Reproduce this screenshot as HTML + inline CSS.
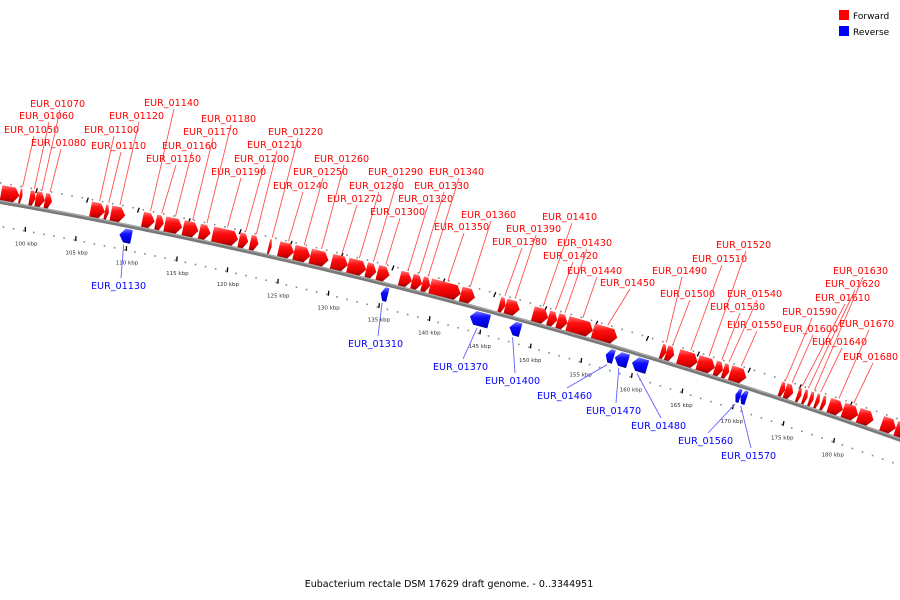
<!DOCTYPE html>
<html><head><meta charset="utf-8"><style>
html,body{margin:0;padding:0;background:#fff;}
svg{display:block;font-family:"DejaVu Sans","Liberation Sans",sans-serif;}
</style></head><body>
<svg id="map" width="900" height="600" viewBox="0 0 900 600">
<defs>
<linearGradient id="gr" x1="0" y1="0" x2="0" y2="1"><stop offset="0" stop-color="#ff7a7a"/><stop offset="0.35" stop-color="#ff1010"/><stop offset="0.7" stop-color="#e80000"/><stop offset="1" stop-color="#9a0000"/></linearGradient>
<linearGradient id="gb" x1="0" y1="0" x2="0" y2="1"><stop offset="0" stop-color="#7a7aff"/><stop offset="0.35" stop-color="#1010ff"/><stop offset="0.7" stop-color="#0000e8"/><stop offset="1" stop-color="#00009a"/></linearGradient>
</defs>
<g id="ticks"></g><g id="backbone"></g><g id="genes"></g><g id="labels"></g>
<g>
<rect x="839" y="10" width="10" height="10" fill="#ff0000"/>
<text x="853" y="19" font-size="9" fill="#000">Forward</text>
<rect x="839" y="26" width="10" height="10" fill="#0000ff"/>
<text x="853" y="35" font-size="9" fill="#000">Reverse</text>
</g>
<text x="449" y="587" font-size="9.5" text-anchor="middle" fill="#000">Eubacterium rectale DSM 17629 draft genome. - 0..3344951</text>
</svg>
<script>
const geneNames=['','EUR_01050','EUR_01060','EUR_01070','EUR_01080','EUR_01100','EUR_01110','EUR_01120','EUR_01130','EUR_01140','EUR_01150','EUR_01160','EUR_01170','EUR_01180','EUR_01190','EUR_01200','EUR_01210','EUR_01220','EUR_01240','EUR_01250','EUR_01260','EUR_01270','EUR_01280','EUR_01290','EUR_01300','EUR_01310','EUR_01320','EUR_01330','EUR_01340','EUR_01350','EUR_01360','EUR_01370','EUR_01380','EUR_01390','EUR_01400','EUR_01410','EUR_01420','EUR_01430','EUR_01440','EUR_01450','EUR_01460','EUR_01470','EUR_01480','EUR_01490','EUR_01500','EUR_01510','EUR_01520','EUR_01530','EUR_01540','EUR_01550','EUR_01560','EUR_01570','EUR_01590','EUR_01600','EUR_01610','EUR_01620','EUR_01630','EUR_01640','EUR_01650','EUR_01670','EUR_01680','','',''];
const geneStart=[96.7,98.5,99.5,100.1,101.0,105.5,106.9,107.5,108.7,110.6,111.9,112.8,114.6,116.2,117.5,120.1,121.2,123.0,124.0,125.5,127.1,129.2,130.8,132.6,133.7,134.5,135.9,137.1,138.1,138.9,141.9,143.3,145.7,146.3,147.2,149.0,150.5,151.4,152.4,154.9,156.7,157.6,159.3,161.6,162.1,163.3,165.2,166.9,167.7,168.4,169.5,170.0,173.3,173.8,175.0,175.6,176.2,176.8,177.4,178.1,179.5,181.0,183.3,184.7];
const geneEnd=[98.5,98.8,100.1,101.0,101.7,106.9,107.3,108.9,109.9,111.8,112.7,114.5,116.1,117.3,120.0,121.0,122.0,123.3,125.5,127.1,128.9,130.8,132.6,133.6,134.9,135.2,137.1,138.1,138.9,141.9,143.3,145.2,146.3,147.7,148.3,150.5,151.4,152.4,154.9,157.3,157.5,158.9,160.8,162.1,162.9,165.2,166.9,167.7,168.3,170.0,170.0,170.6,173.8,174.6,175.4,176.0,176.6,177.2,177.8,179.5,181.0,182.5,184.7,186.0];
const geneStrand=[1,1,1,1,1,1,1,1,-1,1,1,1,1,1,1,1,1,1,1,1,1,1,1,1,1,-1,1,1,1,1,1,-1,1,1,-1,1,1,1,1,1,-1,-1,-1,1,1,1,1,1,1,1,-1,-1,1,1,1,1,1,1,1,1,1,1,1,1];
const labelX=[null,4,19,30,31,84,91,109,91,144,146,162,183,201,211,234,247,268,273,293,314,327,349,368,370,348,398,414,429,434,461,433,492,506,485,542,543,557,567,600,537,586,631,652,660,692,716,710,727,727,678,721,782,783,815,825,833,812,null,839,843,null,null,null];
const labelY=[null,133,119,107,146,133,149,119,289,106,162,149,135,122,175,162,148,135,189,175,162,202,189,175,215,347,202,189,175,230,218,370,245,232,384,220,259,246,274,286,399,414,429,274,297,262,248,310,297,328,444,459,315,332,301,287,274,345,null,327,360,null,null,null];
const tickKbp=[100,105,110,115,120,125,130,135,140,145,150,155,160,165,170,175,180];
const NS='http://www.w3.org/2000/svg';
function X(k){return 33+(k-100)*10.15;}
function Yc(x){return 202+0.175*x+9.9e-5*x*x;}
function slope(x){return 0.175+2*9.9e-5*x;}
function P(k,d){const x=X(k),s=slope(x),l=Math.hypot(1,s);return [x+s/l*d,Yc(x)-1/l*d];}
function mk(tag,attrs,parent){const e=document.createElementNS(NS,tag);for(const a in attrs)e.setAttribute(a,attrs[a]);parent.appendChild(e);return e;}
const tg=document.getElementById('ticks'),bg=document.getElementById('backbone'),gg=document.getElementById('genes'),lg=document.getElementById('labels');
let pts=[];for(let x=-20;x<=920;x+=10)pts.push(x+','+Yc(x).toFixed(1));
const bb=mk('polyline',{points:pts.join(' '),fill:'none',stroke:'#7a7a7a','stroke-width':4},bg);


const bb2=mk('polyline',{points:pts.map(p=>{const [a,b]=p.split(',');return a+','+(b-1.2)}).join(' '),fill:'none',stroke:'#b0b0b0','stroke-width':1},bg);


for(let k=96;k<=188;k++){
 const a=P(k+0.5,19);const d1=mk('rect',{x:a[0]-0.8,y:a[1]-0.8,width:1.6,height:1.6,fill:'#888'},tg);
 
 
 const b=P(k+0.5,-24);const d2=mk('rect',{x:b[0]-0.8,y:b[1]-0.8,width:1.6,height:1.6,fill:'#888'},tg);
 
 
}
tickKbp.forEach(k=>{
 const a1=P(k,15),a2=P(k,20);
 const t1=mk('line',{x1:a1[0],y1:a1[1],x2:a2[0]+0.8,y2:a2[1],stroke:'#000','stroke-width':1.3},tg);
 
 
 const b1=P(k-0.4,-20),b2=P(k-0.4,-25);
 const t2=mk('line',{x1:b1[0],y1:b1[1],x2:b2[0]+0.8,y2:b2[1],stroke:'#000','stroke-width':1.3},tg);
 
 
 const c=P(k,-38);
 const t=mk('text',{x:c[0],y:c[1],'font-size':5.5,'text-anchor':'middle',fill:'#333'},tg);
 t.textContent=k+' kbp';
 
 
});
geneNames.forEach((n,i)=>{
 const s=geneStart[i],e=geneEnd[i],st=geneStrand[i];
 const r1=st>0?2:-3,r2=st>0?17:-17,rm=(r1+r2)/2;
 const len=e-s,ah=Math.min(0.5,len*0.45);
 let poly;
 if(st>0){poly=[P(s,r1),P(e-ah,r1),P(e,rm),P(e-ah,r2),P(s,r2)];}
 else{poly=[P(e,r1),P(s+ah,r1),P(s,rm),P(s+ah,r2),P(e,r2)];}
 const g=mk('polygon',{points:poly.map(p=>p[0].toFixed(1)+','+p[1].toFixed(1)).join(' '),fill:st>0?'url(#gr)':'url(#gb)'},gg);
 
 
 if(n&&labelX[i]!=null){
  const col=st>0?'#ff0000':'#0000ff';
  const m=P((s+e)/2,st>0?19:-19);
  const lx=labelX[i]+30,ly=st>0?labelY[i]+3:labelY[i]-11;
  const l=mk('line',{x1:lx,y1:ly,x2:m[0],y2:m[1],stroke:st>0?'#ff5050':'#6060ff','stroke-width':0.9},lg);
  
  
  const t=mk('text',{x:labelX[i],y:labelY[i],'font-size':9.6,fill:col},lg);
  t.textContent=n;
  
  
 }
});
</script>
</body></html>
